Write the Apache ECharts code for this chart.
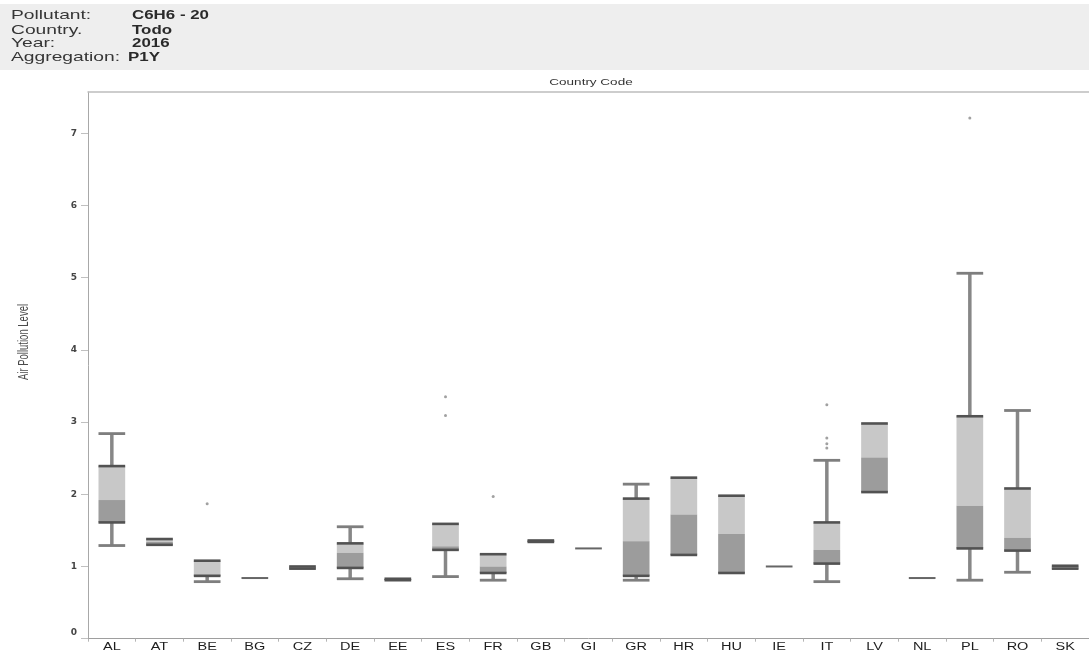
<!DOCTYPE html>
<html>
<head>
<meta charset="utf-8">
<title>Air Pollution Level by Country Code</title>
<script src="https://cdn.jsdelivr.net/npm/echarts@6/dist/echarts.min.js"></script>
<style>
  html, body { margin: 0; padding: 0; background: #ffffff; }
  #chart { width: 1089px; height: 655px; }
</style>
</head>
<body>
<div id="chart"></div>
<script>
// Header block
const headerKeys = ['Pollutant:', 'Country.', 'Year:', 'Aggregation:'];
const headerValues = ['C6H6 - 20', 'Todo', '2016', 'P1Y'];

// Country codes along the x axis
const categories = ['AL', 'AT', 'BE', 'BG', 'CZ', 'DE', 'EE', 'ES', 'FR', 'GB', 'GI',
                    'GR', 'HR', 'HU', 'IE', 'IT', 'LV', 'NL', 'PL', 'RO', 'SK'];

// Box-plot statistics per country
const whiskerLow  = [1.29, 1.30, 0.79, 0.84, 0.97, 0.83, 0.81, 0.86, 0.81, 1.34, 1.25,
                     0.81, 1.16, 0.91, 1.00, 0.79, 2.03, 0.84, 0.81, 0.92, 0.97];
const quartile1   = [1.61, 1.30, 0.87, 0.84, 0.97, 0.98, 0.81, 1.23, 0.91, 1.34, 1.25,
                     0.87, 1.16, 0.91, 1.00, 1.04, 2.03, 0.84, 1.25, 1.22, 0.97];
const median      = [1.92, 1.34, 0.89, 0.84, 0.98, 1.19, 0.82, 1.28, 1.00, 1.35, 1.25,
                     1.35, 1.72, 1.45, 1.00, 1.23, 2.51, 0.84, 1.84, 1.40, 0.99];
const quartile3   = [2.39, 1.38, 1.08, 0.84, 1.00, 1.32, 0.83, 1.59, 1.17, 1.36, 1.25,
                     1.94, 2.23, 1.98, 1.00, 1.61, 2.98, 0.84, 3.08, 2.08, 1.01];
const whiskerHigh = [2.84, 1.38, 1.08, 0.84, 1.00, 1.55, 0.83, 1.59, 1.17, 1.36, 1.25,
                     2.14, 2.23, 1.98, 1.00, 2.47, 2.98, 0.84, 5.06, 3.16, 1.01];

// Outliers beyond the whiskers
const outlierCountry = ['BE', 'ES', 'ES', 'FR', 'IT', 'IT', 'IT', 'IT', 'PL'];
const outlierValue   = [1.87, 3.35, 3.09, 1.97, 3.24, 2.78, 2.70, 2.64, 7.21];

// Y-axis tick values
const yTicks = [0, 1, 2, 3, 4, 5, 6, 7];

const boxData = categories.map((c, i) =>
  [i, whiskerLow[i], quartile1[i], median[i], quartile3[i], whiskerHigh[i]]);
const outlierData = outlierCountry.map((c, k) => [categories.indexOf(c), outlierValue[k]]);

function renderBox(params, api) {
  const i = api.value(0);
  const lo = api.value(1), a = api.value(2), m = api.value(3), b = api.value(4), hi = api.value(5);
  const cx = api.coord([i, 0])[0];
  const half = api.size([1, 0])[0] * 0.28;
  const Y = v => api.coord([i, v])[1];
  const kids = [];
  const hline = (v, style) => ({
    type: 'line',
    shape: { x1: cx - half, y1: Y(v), x2: cx + half, y2: Y(v) },
    style: style
  });
  const stemStyle = { stroke: '#878787', lineWidth: 3.5 };
  const capStyle = { stroke: '#7e7e7e', lineWidth: 2.8 };
  const edgeStyle = { stroke: '#525252', lineWidth: 2.6 };

  if (a === b) {
    kids.push(hline(a, { stroke: '#666666', lineWidth: 2 }));
    return { type: 'group', children: kids };
  }
  if (hi > b) {
    kids.push({ type: 'line', shape: { x1: cx, y1: Y(hi), x2: cx, y2: Y(b) }, style: stemStyle });
    kids.push(hline(hi, capStyle));
  }
  if (lo < a) {
    kids.push({ type: 'line', shape: { x1: cx, y1: Y(a), x2: cx, y2: Y(lo) }, style: stemStyle });
    kids.push(hline(lo, capStyle));
  }
  kids.push({
    type: 'rect',
    shape: { x: cx - half, y: Y(b), width: half * 2, height: Y(m) - Y(b) },
    style: { fill: '#c8c8c8' }
  });
  kids.push({
    type: 'rect',
    shape: { x: cx - half, y: Y(m), width: half * 2, height: Y(a) - Y(m) },
    style: { fill: '#9c9c9c' }
  });
  kids.push(hline(b, edgeStyle));
  kids.push(hline(a, edgeStyle));
  return { type: 'group', children: kids };
}

function renderCategoryLabel(params, api) {
  const i = api.value(0);
  const pt = api.coord([i, 0]);
  return {
    type: 'text',
    x: pt[0],
    y: pt[1] + 8.5,
    scaleX: 1.45,
    style: {
      text: categories[i],
      align: 'center',
      verticalAlign: 'middle',
      fontSize: 10,
      fontFamily: 'Liberation Sans, Arial, sans-serif',
      fill: '#1e1e1e'
    }
  };
}

const headerRowsY = [15, 30.5, 43.5, 57];
const headerGraphics = [{
  type: 'rect',
  left: 0, top: 4,
  shape: { width: 1089, height: 66 },
  style: { fill: '#eeeeee' },
  z: -1
}];
headerKeys.forEach((k, r) => {
  headerGraphics.push({
    type: 'text', x: 11, y: headerRowsY[r], scaleX: 1.48,
    style: { text: k, fontSize: 13, fontFamily: 'Liberation Sans, Arial, sans-serif',
             fill: '#363636', verticalAlign: 'middle' }
  });
  headerGraphics.push({
    type: 'text', x: r === 3 ? 128 : 132, y: headerRowsY[r], scaleX: 1.3,
    style: { text: headerValues[r], fontSize: 13, fontWeight: 'bold',
             fontFamily: 'Liberation Sans, Arial, sans-serif',
             fill: '#2a2a2a', verticalAlign: 'middle' }
  });
});
headerGraphics.push({
  type: 'text', x: 591, y: 83, scaleX: 1.5,
  style: { text: 'Country Code', fontSize: 9, fontFamily: 'Liberation Sans, Arial, sans-serif',
           fill: '#333333', align: 'center', verticalAlign: 'middle' }
});
headerGraphics.push({
  type: 'text', x: 24, y: 342, rotation: Math.PI / 2, scaleY: 1.5,
  style: { text: 'Air Pollution Level', fontSize: 9.5,
           fontFamily: 'Liberation Sans, Arial, sans-serif',
           fill: '#4a4a4a', align: 'center', verticalAlign: 'middle' }
});

const yLabelFont = { fontFamily: 'DejaVu Sans, sans-serif', fontSize: 9, fontWeight: 'bold', color: '#454545' };

const chart = echarts.init(document.getElementById('chart'), null, { renderer: 'canvas' });
chart.setOption({
  animation: false,
  backgroundColor: '#ffffff',
  grid: { left: 88, right: -5, top: 92, bottom: 16.3 },
  xAxis: [
    {
      type: 'category',
      data: categories,
      boundaryGap: true,
      axisLine: { show: true, lineStyle: { color: '#9e9e9e', width: 1 } },
      axisTick: { show: true, length: 3, lineStyle: { color: '#b5b5b5' } },
      axisLabel: { show: false },
      splitLine: { show: false }
    },
    {
      // top frame of the plot area
      type: 'category',
      data: categories,
      position: 'top',
      axisLine: { show: true, lineStyle: { color: '#bdbdbd', width: 1.5 } },
      axisTick: { show: false },
      axisLabel: { show: false },
      splitLine: { show: false }
    }
  ],
  yAxis: {
    type: 'value',
    min: 0, max: 7.57, interval: 1,
    axisLine: { show: true, lineStyle: { color: '#a8a8a8', width: 1 } },
    axisTick: { show: true, length: 7, lineStyle: { color: '#c0c0c0' }, customValues: yTicks },
    splitLine: { show: false },
    axisLabel: Object.assign({
      margin: 11,
      customValues: yTicks,
      formatter: v => (v === 0 ? '{z|0}' : String(v)),
      rich: { z: Object.assign({ padding: [0, 0, 13, 0] }, yLabelFont) }
    }, yLabelFont)
  },
  graphic: headerGraphics,
  series: [
    {
      type: 'custom',
      name: 'Air Pollution Level',
      renderItem: renderBox,
      data: boxData,
      encode: { x: 0, y: [1, 2, 3, 4, 5] },
      silent: true,
      z: 3
    },
    {
      type: 'scatter',
      data: outlierData,
      symbol: 'circle',
      symbolSize: 3,
      itemStyle: { color: '#8a8a8a' },
      silent: true,
      z: 4
    },
    {
      type: 'custom',
      renderItem: renderCategoryLabel,
      data: categories.map((c, i) => [i, 0]),
      encode: { x: 0, y: 1 },
      clip: false,
      silent: true,
      z: 5
    }
  ]
});
</script>
</body>
</html>
